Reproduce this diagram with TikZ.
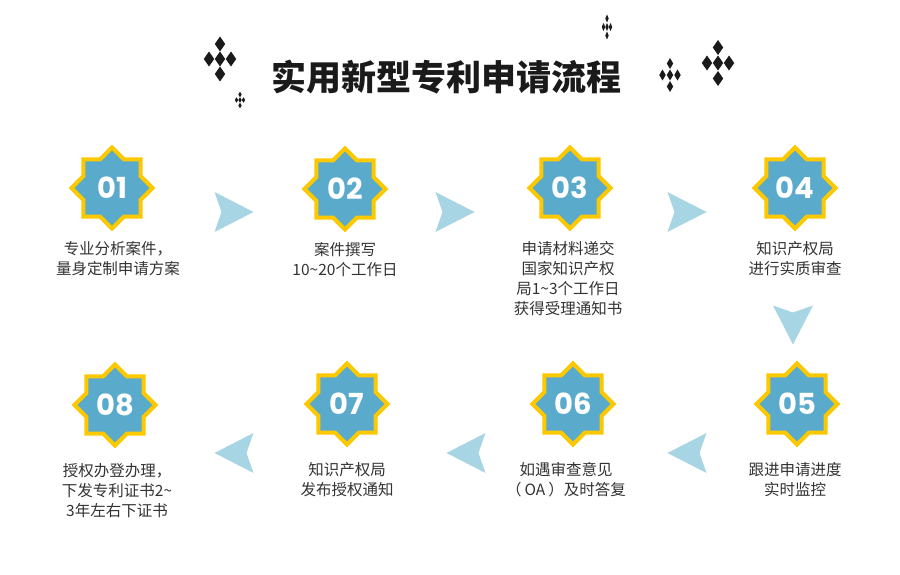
\documentclass[tikz,border=0pt]{standalone}
\usepackage{fontspec}
\newfontfamily\cjk{Noto Sans CJK SC}
\newfontfamily\numfont{Poppins}
\usetikzlibrary{positioning}
\definecolor{starblue}{HTML}{5AAACC}
\definecolor{staryellow}{HTML}{FCC800}
\definecolor{arrowblue}{HTML}{A8D5E4}
\definecolor{txtgray}{HTML}{333333}
\definecolor{titleblack}{HTML}{1A1A1A}
\tikzset{
  pics/star/.style={code={
    \filldraw[fill=starblue,draw=staryellow,line width=4pt,line join=miter]
      (0:40.5) \foreach \a in {22.5,67.5,...,337.5}{ -- (\a:31) -- ({\a+22.5}:40.5)} -- cycle;}},
  pics/chev/.style={code={
    \fill[arrowblue] (-19.5,-20) -- (19.5,0) -- (-19.5,20) -- (-12.5,0) -- cycle;}},
  pics/sparkle/.style n args={4}{code={
    \foreach \p in {(0,-#2),(-#1,0),(0,0),(#1,0),(0,#2)}
      \fill[titleblack] \p ++(-#3,0) -- ++(#3,-#4) -- ++(#3,#4) -- ++(-#3,#4) -- cycle;}},
  num/.style={font=\numfont\bfseries\fontsize{29}{29}\selectfont,text=white},
  note/.style={font=\cjk\fontsize{15.5}{20}\selectfont,text=txtgray,align=center,inner sep=0pt},
  head/.style={font=\cjk\bfseries\fontsize{35}{35}\selectfont,text=titleblack}
}
\begin{document}
\begin{tikzpicture}[x=1pt,y=-1pt]
\fill[white] (0,0) rectangle (900,575);
% title
\node[head] (title) at (446,77) {实用新型专利申请流程};
\pic at (220,59) {sparkle={11}{15}{5.2}{7.5}};
\pic at (240,100) {sparkle={3.5}{5.5}{1.7}{2.7}};
\pic at (607,27) {sparkle={3.5}{8.5}{1.7}{4}};
\pic at (670,75) {sparkle={7.5}{11.5}{3.2}{5.5}};
\pic at (718,63) {sparkle={11}{15.5}{5.2}{7.5}};
% badges
\foreach \i/\x/\y in {1/112/188,2/345/189,3/570/188,4/795/188,5/797/404,6/573/404,7/347/404,8/115/405}{
  \coordinate (b\i) at (\x,\y);
  \pic at (b\i) {star};
  \node[num] (n\i) at (b\i) {0\i};
}
% steps
\node[note,below=53pt of b1,xshift=6pt] (t1) {专业分析案件，\\量身定制申请方案};
\node[note,below=53pt of b2] (t2) {案件撰写\\10\textasciitilde20个工作日};
\node[note,below=53pt of b3,xshift=-2pt] (t3) {申请材料递交\\国家知识产权\\局1\textasciitilde3个工作日\\获得受理通知书};
\node[note,below=53pt of b4] (t4) {知识产权局\\进行实质审查};
\node[note,below=58pt of b5,xshift=-2pt] (t5) {跟进申请进度\\实时监控};
\node[note,below=58pt of b6,xshift=-7pt] (t6) {如遇审查意见\\（\hspace{3pt}OA\hspace{3pt}）及时答复};
\node[note,below=58pt of b7] (t7) {知识产权局\\发布授权通知};
\node[note,below=58pt of b8,xshift=2pt] (t8) {授权办登办理，\\下发专利证书2\textasciitilde\\3年左右下证书};
% arrows
\pic at (234,212) {chev};
\pic at (455,212) {chev};
\pic at (687,212) {chev};
\pic[rotate=-90] at (793,325) {chev};
\pic[rotate=180] at (687,453) {chev};
\pic[rotate=180] at (466,453) {chev};
\pic[rotate=180] at (234,453) {chev};
\end{tikzpicture}
\end{document}
